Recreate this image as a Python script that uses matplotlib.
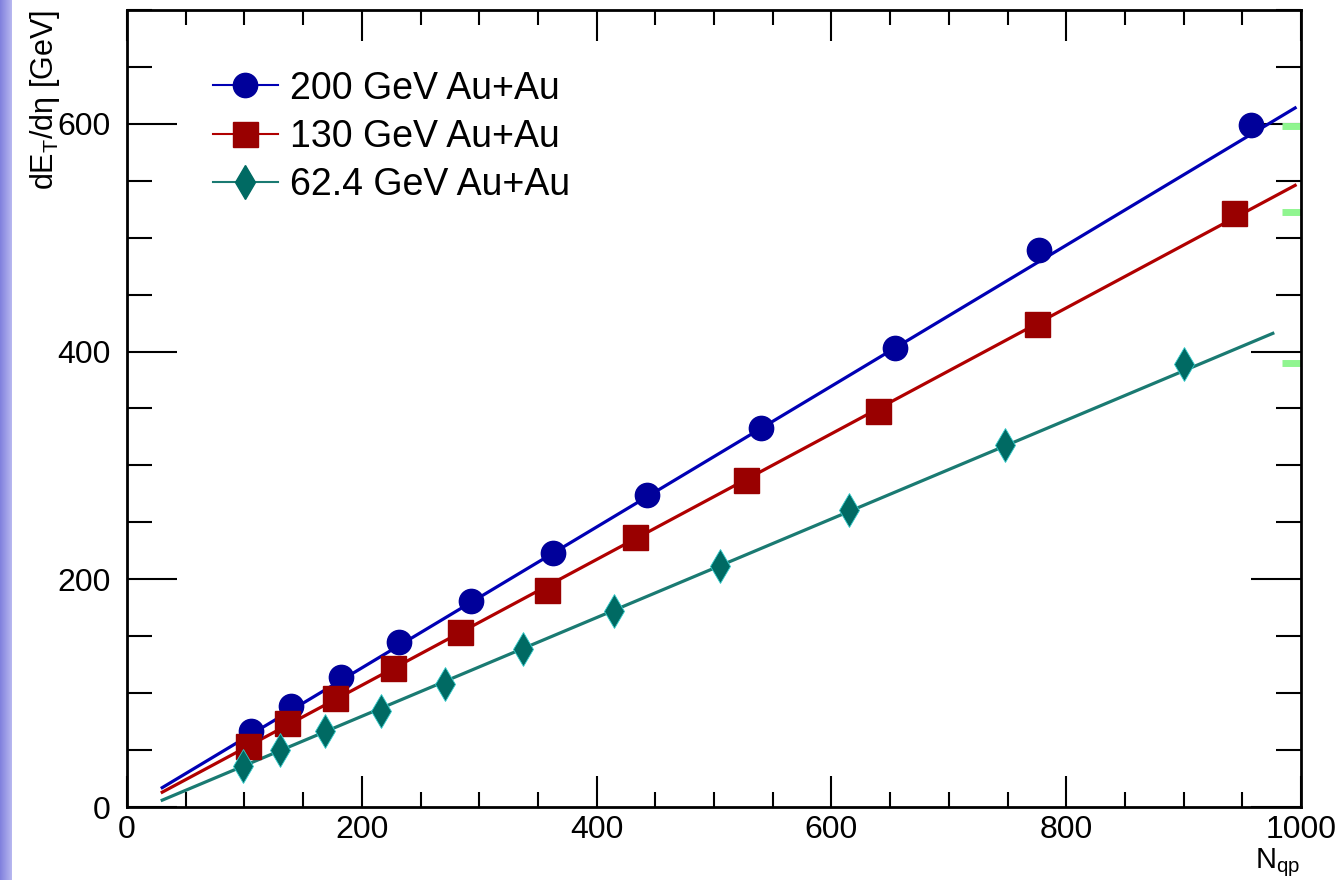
import numpy as np
import matplotlib.pyplot as plt
from matplotlib.colors import LinearSegmentedColormap
from matplotlib.ticker import MultipleLocator

plt.rcParams['font.family'] = ['Liberation Sans', 'DejaVu Sans']

# ------------------ DATA ------------------
npart_200 = [106, 140, 182, 232, 293, 363, 443, 540, 654, 777, 957]
et_200 = [67, 89, 114, 145, 181, 223, 274, 333, 403, 489, 599]

npart_130 = [103, 136, 177, 227, 284, 358, 433, 527, 640, 775, 943]
et_130 = [54, 74, 96, 122, 154, 191, 237, 287, 348, 424, 522]

npart_62 = [99, 130, 169, 216, 271, 337, 415, 505, 615, 748, 900]
et_62 = [36, 50, 67, 84, 108, 139, 172, 212, 261, 318, 389]

labels = ["200 GeV Au+Au", "130 GeV Au+Au", "62.4 GeV Au+Au"]

# fit lines
fit_x_200 = [30, 995]
fit_y_200 = [17, 614]
fit_x_130 = [30, 995]
fit_y_130 = [13, 546]
fit_x_62 = [30, 976]
fit_y_62 = [6, 416]

# light green marks at the right edge
edge_x = [992, 992, 992]
edge_y = [598, 523, 390]

blue = "#00009a"
red = "#990000"
teal = "#006a63"

# ------------------ PLOT ------------------
fig = plt.figure(figsize=(13.44, 8.8), dpi=100)

# gradient strip at the left edge
strip = fig.add_axes([0, 0, 12 / 1344, 1])
grad = np.linspace(0, 1, 50).reshape(1, -1)
strip.imshow(grad, aspect="auto", extent=[0, 1, 0, 1],
             cmap=LinearSegmentedColormap.from_list("s", ["#8080dd", "#b8b8f0"]))
strip.axis("off")

ax = fig.add_axes([127 / 1344, 73 / 880, 1174 / 1344, 797 / 880])

ax.plot(fit_x_200, fit_y_200, color="#0000b4", lw=2.3)
ax.plot(fit_x_130, fit_y_130, color="#b00000", lw=2.3)
ax.plot(fit_x_62, fit_y_62, color="#1a7a72", lw=2.3)

ax.plot(edge_x, edge_y, ls="none", marker="_", ms=14, mew=5, color="#90f590")

ax.plot(npart_200, et_200, ls="none", marker="o", ms=17.5, color=blue, mec=blue)
ax.plot(npart_130, et_130, ls="none", marker="s", ms=18, color=red, mec=red)
ax.plot(npart_62, et_62, ls="none", marker="d", ms=17.5, color=teal, mec="#33cccc", mew=0.6)

# legend handles
h1, = ax.plot([], [], color="#0000b4", lw=1.5, marker="o", ms=17.5, mfc=blue, mec=blue)
h2, = ax.plot([], [], color="#b00000", lw=1.5, marker="s", ms=18, mfc=red, mec=red)
h3, = ax.plot([], [], color="#1a7a72", lw=1.5, marker="d", ms=17.5, mfc=teal, mec=teal)
ax.legend([h1, h2, h3], labels,
          loc="upper left", bbox_to_anchor=(0.0733, 0.924), frameon=False,
          fontsize=27, handlelength=1.73, handletextpad=0.32, labelspacing=0.33,
          borderpad=0, borderaxespad=0)

ax.set_xlim(0, 1000)
ax.set_ylim(0, 700)
ax.xaxis.set_major_locator(MultipleLocator(200))
ax.xaxis.set_minor_locator(MultipleLocator(50))
ax.yaxis.set_major_locator(MultipleLocator(200))
ax.yaxis.set_minor_locator(MultipleLocator(50))
ax.tick_params(which="both", direction="in", top=True, right=True, width=1.5, labelsize=23)
ax.tick_params(axis="x", which="major", length=22, pad=6)
ax.tick_params(axis="x", which="minor", length=11)
ax.tick_params(axis="y", which="major", length=36, pad=12)
ax.tick_params(axis="y", which="minor", length=18)
for s in ax.spines.values():
    s.set_linewidth(2)

fig.text(45 / 1344, 1 - 10 / 880, r"dE$_{\mathregular{T}}$/dη [GeV]", rotation=90,
         ha="center", va="top", fontsize=22)
fig.text(1300 / 1344, 12 / 880, r"N$_{\mathregular{qp}}$", ha="right", va="baseline", fontsize=21)

fig.savefig("out.png", dpi=100)
